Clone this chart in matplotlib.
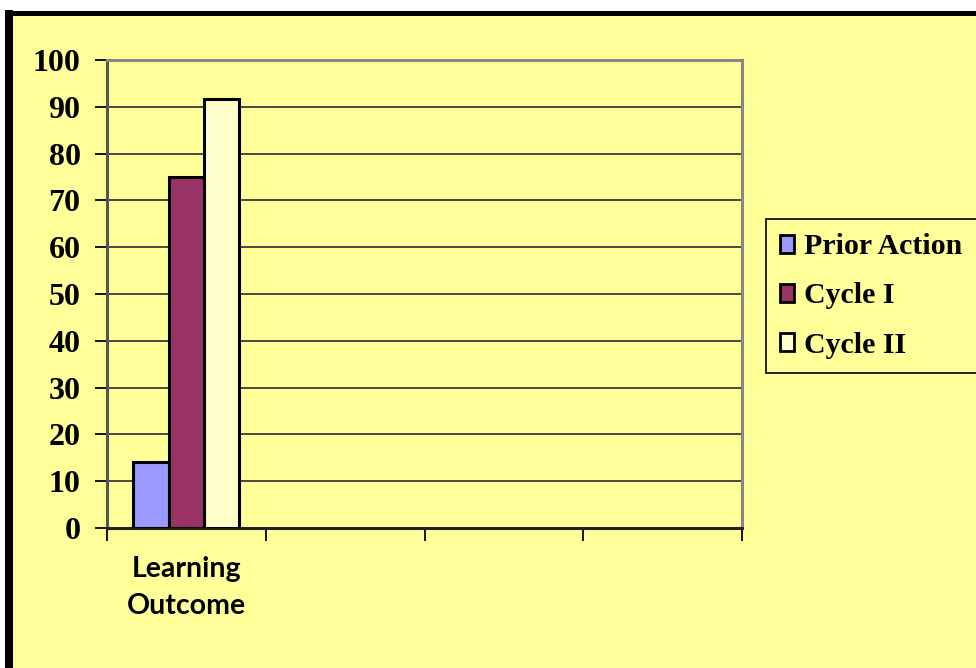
import matplotlib
matplotlib.use("Agg")
import matplotlib.pyplot as plt
from matplotlib.patches import Rectangle
from matplotlib.lines import Line2D
import numpy as np

categories = ["Learning\nOutcome", "", "", ""]
series_names = ["Prior Action", "Cycle I", "Cycle II"]
prior_action = [14, None, None, None]
cycle_1 = [75, None, None, None]
cycle_2 = [91.7, None, None, None]
series_values = [prior_action, cycle_1, cycle_2]
series_colors = ["#9999FF", "#993366", "#FFFFCC"]
y_ticks = [0, 10, 20, 30, 40, 50, 60, 70, 80, 90, 100]

W, H = 976, 668
YELLOW = "#FFFF99"
fig = plt.figure(figsize=(W / 100, H / 100), dpi=100)
fig.patch.set_facecolor("white")

# yellow background area with black left/top borders
fig.patches.append(Rectangle((13 / W, 0), 1, 1 - 15 / H, transform=fig.transFigure,
                             facecolor=YELLOW, edgecolor="none", zorder=-5))
fig.lines.append(Line2D([9 / W, 9 / W], [0, 1 - 10 / H], transform=fig.transFigure,
                        color="black", linewidth=8 * 0.72, solid_capstyle="butt", zorder=-4))
fig.lines.append(Line2D([5 / W, 1], [1 - 12.5 / H, 1 - 12.5 / H], transform=fig.transFigure,
                        color="black", linewidth=5 * 0.72, solid_capstyle="butt", zorder=-4))

ax = fig.add_axes([107 / W, 1 - 528 / H, 635 / W, 468 / H])
ax.set_facecolor(YELLOW)

x = np.arange(len(categories))
bw = 0.2224
offsets = [-bw, 0, bw]
for name, vals, col, off in zip(series_names, series_values, series_colors, offsets):
    xs = [xi + off for xi, v in zip(x, vals) if v is not None]
    vs = [v for v in vals if v is not None]
    ax.bar(xs, vs, width=bw, color=col, edgecolor="black", linewidth=2.2,
           label=name, zorder=3)

ax.set_xlim(-0.5, len(categories) - 0.5)
ax.set_ylim(0, 100)
ax.set_yticks(y_ticks)
ax.set_yticklabels([str(t) for t in y_ticks], fontfamily="Liberation Serif",
                   fontweight="bold", fontsize=23)
ax.yaxis.grid(True, color="#3a3a3a", linewidth=1.3, zorder=1)
ax.set_axisbelow(True)

ax.set_xticks(np.arange(-0.5, len(categories), 1.0))
ax.set_xticklabels([])
ax.set_xticks(x, minor=True)
ax.set_xticklabels(categories, minor=True, fontfamily="Lato", fontweight="bold",
                   fontsize=20.5, linespacing=1.55)
ax.tick_params(axis="x", which="minor", length=0, pad=20)
ax.tick_params(axis="x", which="major", length=9, width=1.3, color="black", direction="out")
ax.tick_params(axis="y", length=9, width=1.3, color="black", direction="out", pad=10)

for s in ["top", "right"]:
    ax.spines[s].set_color("#888888")
    ax.spines[s].set_linewidth(2.2)
ax.spines["left"].set_color("#555555")
ax.spines["left"].set_linewidth(2.2)
ax.spines["bottom"].set_color("#222222")
ax.spines["bottom"].set_linewidth(2.2)

leg = fig.legend(loc="upper left", bbox_to_anchor=(766 / W, 1 - 219 / H),
                 prop={"family": "Liberation Serif", "weight": "bold", "size": 21.5},
                 frameon=True, fancybox=False, facecolor=YELLOW, edgecolor="black",
                 framealpha=1, handlelength=0.45, handleheight=0.55,
                 handletextpad=0.35, labelspacing=0.74, borderpad=0.48, borderaxespad=0)
leg.get_frame().set_linewidth(1.2)
for h in leg.legend_handles:
    h.set_linewidth(2.0)

fig.savefig("out.png", dpi=100, facecolor=fig.get_facecolor())
